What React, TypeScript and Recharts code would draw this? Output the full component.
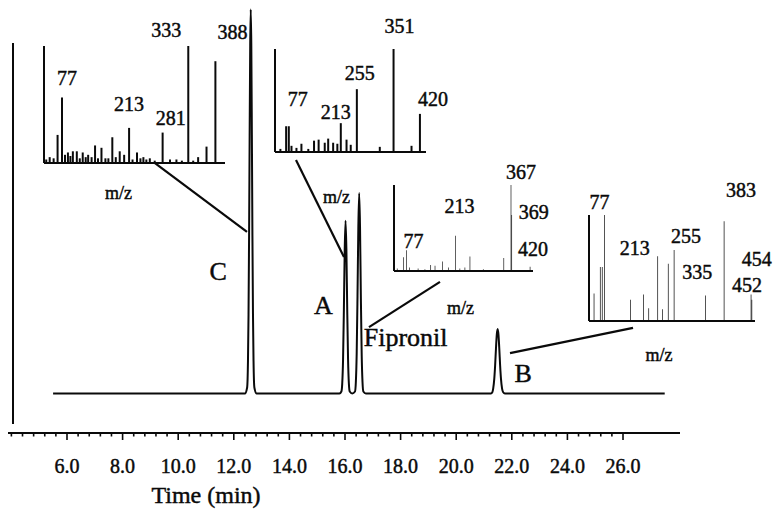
import React from 'react';
import {
  ComposedChart,
  Line,
  XAxis,
  YAxis,
  ReferenceLine,
  ReferenceDot,
  BarChart,
  Bar,
  LabelList,
} from 'recharts';

const SERIF = "'Liberation Serif', 'Times New Roman', Times, serif";
const INK = '#0a0a0a';
const TEXT_STYLE = { fontFamily: SERIF, fill: INK, stroke: INK, strokeWidth: 0.45 } as const;

// Total ion chromatogram: retention time (min) and detector response
const RETENTION_TIME = [
  5.5,
  12.4, 12.48, 12.51, 12.53, 12.55, 12.57, 12.59, 12.61, 12.63, 12.65, 12.67, 12.69, 12.71, 12.74, 12.82,
  15.8, 15.87, 15.9, 15.93, 15.96, 15.99, 16.02, 16.05, 16.08, 16.11, 16.14, 16.17, 16.26,
  16.36, 16.39, 16.42, 16.45, 16.48, 16.51, 16.54, 16.57, 16.6, 16.63, 16.66, 16.75,
  21.25, 21.3, 21.33, 21.37, 21.4, 21.43, 21.46, 21.49, 21.52, 21.55, 21.58, 21.61, 21.65, 21.69, 21.75,
  27.5,
];
const RESPONSE = [
  0,
  0, 1.5, 8.1, 19.8, 39.5, 64.7, 87, 96, 87, 64.7, 39.5, 19.8, 8.1, 1.5, 0,
  0, 0.5, 2.4, 8.5, 21, 36.1, 43.2, 36.1, 21, 8.5, 2.4, 0.5, 0,
  0.5, 2.8, 9.9, 24.4, 41.8, 50.1, 41.8, 24.4, 9.9, 2.8, 0.5, 0,
  0, 0.3, 1.2, 3.7, 7.0, 11.2, 14.7, 16.1, 14.7, 11.2, 7.0, 3.7, 1.2, 0.3, 0,
  0,
];

const MAJOR_TIMES = [6, 8, 10, 12, 14, 16, 18, 20, 22, 24, 26];
const MAJOR_LABELS = ['6.0', '8.0', '10.0', '12.0', '14.0', '16.0', '18.0', '20.0', '22.0', '24.0', '26.0'];

// Mass spectra of the labelled peaks (m/z, relative abundance %)
const MZ_C = [45, 52, 60, 68, 77, 83, 89, 94, 99, 107, 113, 119, 125, 130, 137, 144, 150, 157, 165, 171, 179, 186, 194, 203, 213, 220, 229, 236, 242, 248, 255, 265, 281, 296, 309, 320, 333, 343, 353, 370, 388];
const ABUND_C = [3, 5, 4, 24, 56, 7, 9, 6, 10, 10, 4, 9, 5, 7, 5, 15, 4, 13, 4, 4, 22, 5, 10, 7, 30, 3, 9, 4, 5, 3, 4, 2, 26, 3, 3, 2, 100, 2, 5, 14, 87];

const MZ_A = [55, 70, 77, 84, 97, 110, 128, 143, 155, 171, 180, 193, 204, 213, 228, 239, 255, 315, 351, 398, 420];
const ABUND_A = [3, 25, 25, 6, 4, 8, 3, 11, 12, 9, 13, 9, 8, 28, 12, 7, 61, 5, 100, 6, 37];

const MZ_FIPRONIL = [51, 69, 77, 85, 109, 128, 144, 156, 177, 193, 213, 225, 239, 253, 290, 347, 367, 369, 420];
const ABUND_FIPRONIL = [3, 16, 24, 4, 3, 2, 7, 6, 11, 4, 41, 3, 4, 17, 2, 15, 100, 65, 5];

const MZ_B = [50, 66, 71, 77, 143, 177, 190, 213, 225, 240, 255, 335, 383, 452, 454];
const ABUND_B = [26, 51, 51, 100, 20, 25, 12, 61, 11, 54, 67, 24, 94, 25, 20];

// Ion labels shown on each spectrum, with text offsets from the stick top
const TAGS_C = [
  { mz: 77, dx: 5, dy: -12 },
  { mz: 213, dx: 0, dy: -17 },
  { mz: 281, dx: 8, dy: -8 },
  { mz: 333, dx: -22, dy: -9 },
  { mz: 388, dx: 17, dy: -22 },
];
const TAGS_A = [
  { mz: 77, dx: 9, dy: -20 },
  { mz: 213, dx: -5, dy: -4 },
  { mz: 255, dx: 3, dy: -9 },
  { mz: 351, dx: 6, dy: -16 },
  { mz: 420, dx: 13, dy: -8 },
];
const TAGS_FIPRONIL = [
  { mz: 77, dx: 7, dy: -2 },
  { mz: 213, dx: 4, dy: -23 },
  { mz: 367, dx: 10, dy: -6 },
  { mz: 369, dx: 22, dy: 4 },
  { mz: 420, dx: 3, dy: -11 },
];
const TAGS_B = [
  { mz: 77, dx: -5, dy: -6 },
  { mz: 213, dx: -23, dy: -1 },
  { mz: 255, dx: 12, dy: -7 },
  { mz: 335, dx: -8, dy: -17 },
  { mz: 383, dx: 17, dy: -24 },
  { mz: 452, dx: -4, dy: -3 },
  { mz: 454, dx: 5, dy: -34 },
];

// Peak names placed on the chromatogram (time, response)
const PEAK_NAMES = [
  { text: 'C', t: 11.44, r: 30.4 },
  { text: 'A', t: 15.22, r: 22.1 },
  { text: 'Fipronil', t: 18.18, r: 14.1 },
  { text: 'B', t: 22.41, r: 5.0 },
];

// Leader lines from each spectrum to its peak (t1, r1, t2, r2)
const LEADERS = [
  [9.165, 57.6, 12.475, 40.4],
  [14.237, 58.4, 15.964, 34.1],
  [19.417, 27.9, 16.863, 16.6],
  [21.935, 10.1, 26.36, 16.4],
];

const W = 774;
const H = 518;

const chromData = RETENTION_TIME.map((t, i) => ({ t, r: RESPONSE[i] }));

const timeTicks: number[] = [];
for (let k = 0; k <= 55; k++) timeTicks.push(Math.round((4 + 0.4 * k) * 10) / 10);

function TimeTick(props: any) {
  const { x, y, payload } = props;
  const idx = MAJOR_TIMES.findIndex((m) => Math.abs(m - payload.value) < 1e-6);
  const major = idx >= 0;
  return (
    <g>
      <line x1={x} x2={x} y1={y} y2={y + (major ? 7 : 3.5)} stroke={INK} strokeWidth={1.6} />
      {major && (
        <text x={x} y={y + 40} textAnchor="middle" fontSize={20} style={TEXT_STYLE}>
          {MAJOR_LABELS[idx]}
        </text>
      )}
    </g>
  );
}

type Tag = { mz: number; dx: number; dy: number };

function Spectrum(props: {
  mz: number[];
  abundance: number[];
  domain: [number, number];
  tags: Tag[];
  box: [number, number, number, number];
  mzLabel: [number, number];
  margin: { top: number; right: number; bottom: number; left: number };
}) {
  const { mz, abundance, domain, tags, box, mzLabel, margin } = props;
  const data = mz.map((m, i) => ({ mz: m, a: abundance[i] }));
  const [px, py, pw, ph] = box;
  const AXIS = 1;

  const renderTag = (p: any) => {
    const vb = p.viewBox ?? p;
    const x = p.x ?? vb.x;
    const y = p.y ?? vb.y;
    const w = p.width ?? vb.width ?? 0;
    const tag = tags.find((t) => t.mz === p.value);
    if (!tag) return null;
    return (
      <text x={x + w / 2 + tag.dx} y={y + tag.dy} textAnchor="middle" fontSize={20} style={TEXT_STYLE}>
        {tag.mz}
      </text>
    );
  };

  return (
    <div style={{ position: 'absolute', left: px - margin.left, top: py - margin.top }}>
      <BarChart
        width={pw + margin.left + margin.right}
        height={ph + margin.top + margin.bottom}
        data={data}
        margin={{
          top: margin.top,
          right: margin.right,
          bottom: margin.bottom - AXIS,
          left: margin.left - AXIS,
        }}
      >
        <XAxis
          dataKey="mz"
          type="number"
          domain={domain}
          allowDataOverflow
          height={AXIS}
          tick={false}
          tickLine={false}
          axisLine={{ stroke: INK, strokeWidth: 2 }}
        />
        <YAxis
          type="number"
          domain={[0, 100]}
          allowDataOverflow
          width={AXIS}
          tick={false}
          tickLine={false}
          axisLine={{ stroke: INK, strokeWidth: 2 }}
        />
        <Bar dataKey="a" fill={INK} barSize={2} isAnimationActive={false}>
          <LabelList dataKey="mz" content={renderTag} />
        </Bar>
      </BarChart>
      <div
        style={{
          position: 'absolute',
          left: margin.left + pw / 2 + mzLabel[0] - 30,
          top: margin.top + ph + mzLabel[1] - 15,
          width: 60,
          textAlign: 'center',
          fontFamily: SERIF,
          fontSize: 18,
          lineHeight: '18px',
          color: INK,
          WebkitTextStroke: '0.45px #0a0a0a',
        }}
      >
        m/z
      </div>
    </div>
  );
}

export default function App() {
  return (
    <div style={{ position: 'absolute', left: 0, top: 0, width: W, height: H, background: '#fff' }}>
      <ComposedChart
        width={W}
        height={H}
        data={chromData}
        margin={{ top: 5, right: 94, bottom: 25, left: 8 }}
      >
        <XAxis
          dataKey="t"
          type="number"
          domain={[3.878, 28.05]}
          allowDataOverflow
          ticks={timeTicks}
          interval={0}
          tick={<TimeTick />}
          tickLine={false}
          tickSize={0}
          tickMargin={0}
          height={60}
          axisLine={{ stroke: INK, strokeWidth: 2 }}
          label={(p: any) => (
            <text x={206} y={p.viewBox.y + 70} textAnchor="middle" fontSize={24} style={TEXT_STYLE}>
              Time (min)
            </text>
          )}
        />
        <YAxis hide type="number" domain={[-9.875, 97.125]} allowDataOverflow />
        <ReferenceLine
          segment={[
            { x: 4.058, y: 87.6 },
            { x: 4.058, y: -7.6 },
          ]}
          stroke={INK}
          strokeWidth={2}
        />
        {LEADERS.map((l, i) => (
          <ReferenceLine
            key={`lead-${i}`}
            segment={[
              { x: l[0], y: l[1] },
              { x: l[2], y: l[3] },
            ]}
            stroke={INK}
            strokeWidth={2.2}
          />
        ))}
        {PEAK_NAMES.map((p) => (
          <ReferenceDot
            key={p.text}
            x={p.t}
            y={p.r}
            r={0}
            ifOverflow="visible"
            shape={(s: any) => (
              <text
                x={s.cx}
                y={s.cy}
                textAnchor="middle"
                dominantBaseline="central"
                fontSize={26}
                style={TEXT_STYLE}
              >
                {p.text}
              </text>
            )}
          />
        ))}
        <Line
          dataKey="r"
          type="monotone"
          stroke={INK}
          strokeWidth={2}
          dot={false}
          isAnimationActive={false}
        />
      </ComposedChart>

      <Spectrum
        mz={MZ_C}
        abundance={ABUND_C}
        domain={[40, 407]}
        tags={TAGS_C}
        box={[44, 46, 181, 117]}
        mzLabel={[-16, 36]}
        margin={{ top: 45, right: 45, bottom: 60, left: 10 }}
      />
      <Spectrum
        mz={MZ_A}
        abundance={ABUND_A}
        domain={[40, 435]}
        tags={TAGS_A}
        box={[275, 49, 151, 103]}
        mzLabel={[-14, 51]}
        margin={{ top: 45, right: 45, bottom: 60, left: 10 }}
      />
      <Spectrum
        mz={MZ_FIPRONIL}
        abundance={ABUND_FIPRONIL}
        domain={[42, 428]}
        tags={TAGS_FIPRONIL}
        box={[394, 185, 139, 86]}
        mzLabel={[-3, 43]}
        margin={{ top: 45, right: 45, bottom: 60, left: 10 }}
      />
      <Spectrum
        mz={MZ_B}
        abundance={ABUND_B}
        domain={[37, 462]}
        tags={TAGS_B}
        box={[589, 215, 166, 106]}
        mzLabel={[-13, 40]}
        margin={{ top: 45, right: 19, bottom: 60, left: 10 }}
      />
    </div>
  );
}
